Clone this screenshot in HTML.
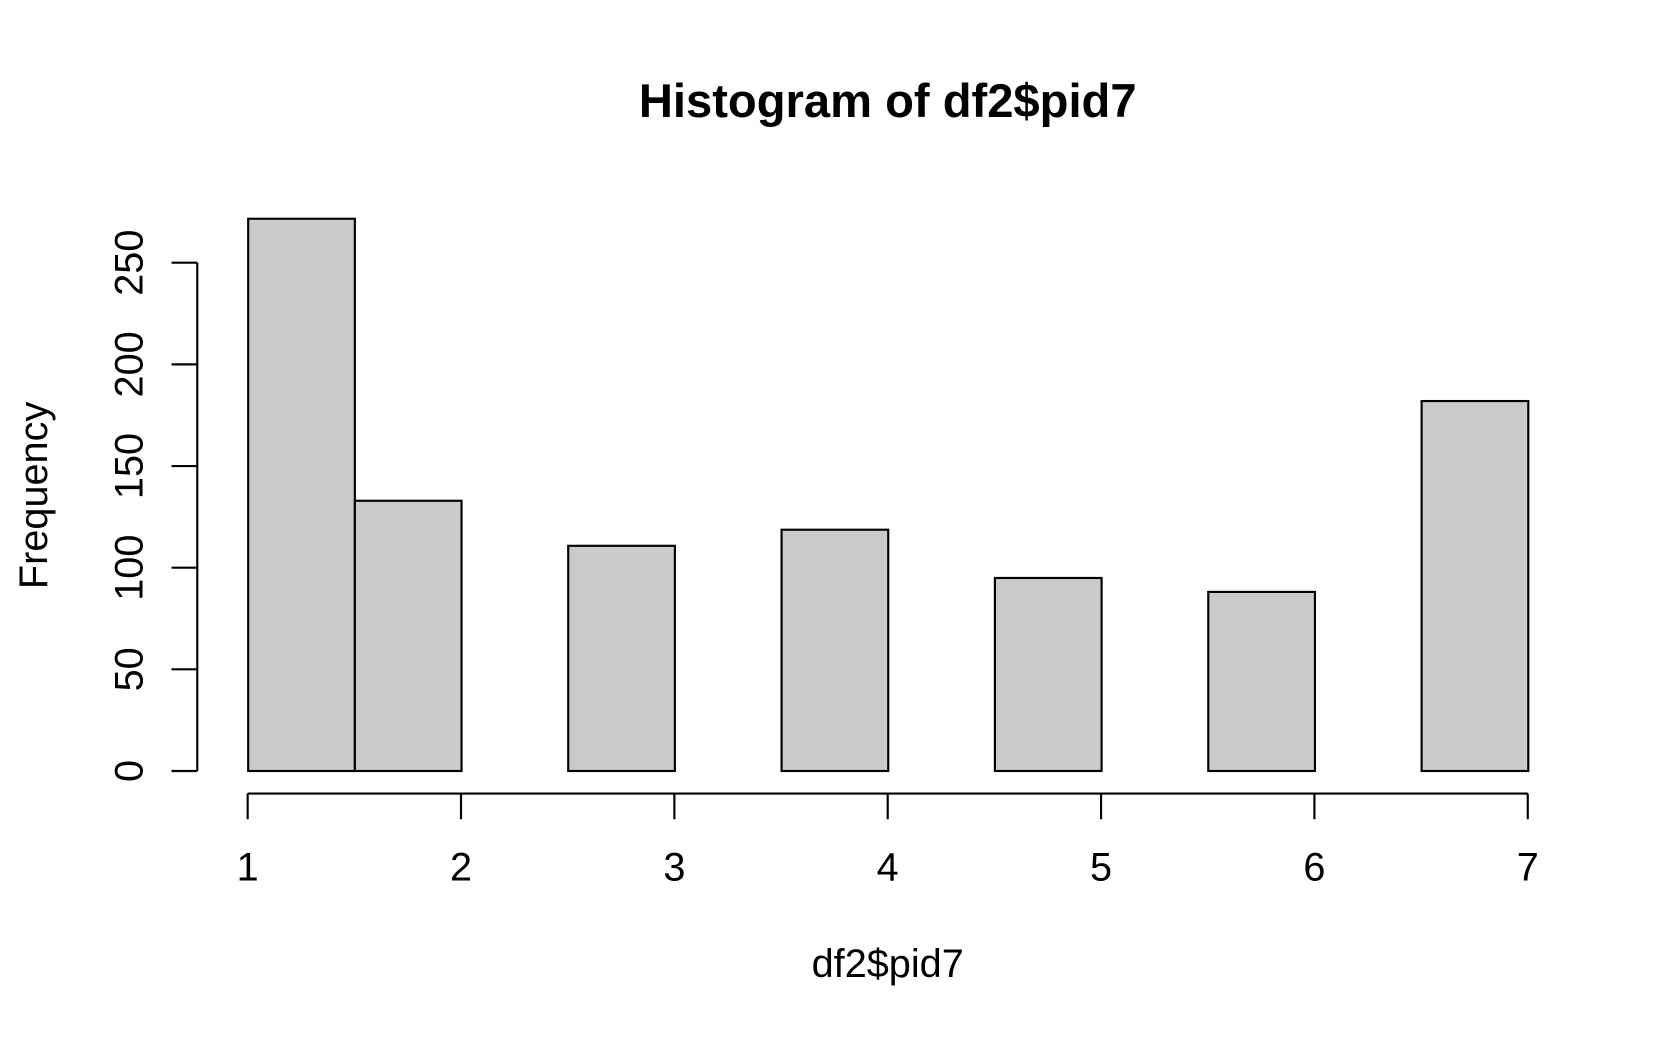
<!DOCTYPE html>
<html><head><style>
html,body{margin:0;padding:0;background:#fff;}
svg{display:block;}
text{font-family:"Liberation Sans",Arial,sans-serif;fill:#000;}
</style></head><body>
<svg width="1680" height="1038" viewBox="0 0 1567 968" preserveAspectRatio="none" xmlns="http://www.w3.org/2000/svg">
<text x="828" y="109" font-size="44" font-weight="bold" text-anchor="middle">Histogram of df2$pid7</text>
<g fill="#cacaca" stroke="#000" stroke-width="2">
<rect x="231.5" y="204" width="99.5" height="515"/>
<rect x="331" y="467" width="99.5" height="252"/>
<rect x="530" y="509" width="99.5" height="210"/>
<rect x="729" y="494" width="99.5" height="225"/>
<rect x="928" y="539" width="99.5" height="180"/>
<rect x="1127" y="552" width="99.5" height="167"/>
<rect x="1326" y="374" width="99.5" height="345"/>
</g>
<g stroke="#000" stroke-width="2" fill="none">
<line x1="184" y1="245" x2="184" y2="719"/>
<line x1="160" y1="719" x2="184" y2="719"/>
<line x1="160" y1="624.2" x2="184" y2="624.2"/>
<line x1="160" y1="529.4" x2="184" y2="529.4"/>
<line x1="160" y1="434.6" x2="184" y2="434.6"/>
<line x1="160" y1="339.8" x2="184" y2="339.8"/>
<line x1="160" y1="245" x2="184" y2="245"/>
<line x1="231" y1="740" x2="1425" y2="740"/>
<line x1="231" y1="740" x2="231" y2="764"/>
<line x1="430" y1="740" x2="430" y2="764"/>
<line x1="629" y1="740" x2="629" y2="764"/>
<line x1="828" y1="740" x2="828" y2="764"/>
<line x1="1027" y1="740" x2="1027" y2="764"/>
<line x1="1226" y1="740" x2="1226" y2="764"/>
<line x1="1425" y1="740" x2="1425" y2="764"/>
</g>
<g font-size="37" text-anchor="middle">
<text transform="translate(133,719) rotate(-90)">0</text>
<text transform="translate(133,624.2) rotate(-90)">50</text>
<text transform="translate(133,529.4) rotate(-90)">100</text>
<text transform="translate(133,434.6) rotate(-90)">150</text>
<text transform="translate(133,339.8) rotate(-90)">200</text>
<text transform="translate(133,245) rotate(-90)">250</text>
<text x="231" y="821">1</text>
<text x="430" y="821">2</text>
<text x="629" y="821">3</text>
<text x="828" y="821">4</text>
<text x="1027" y="821">5</text>
<text x="1226" y="821">6</text>
<text x="1425" y="821">7</text>
<text x="828" y="911">df2$pid7</text>
<text transform="translate(44,462) rotate(-90)">Frequency</text>
</g>
</svg>
</body></html>
